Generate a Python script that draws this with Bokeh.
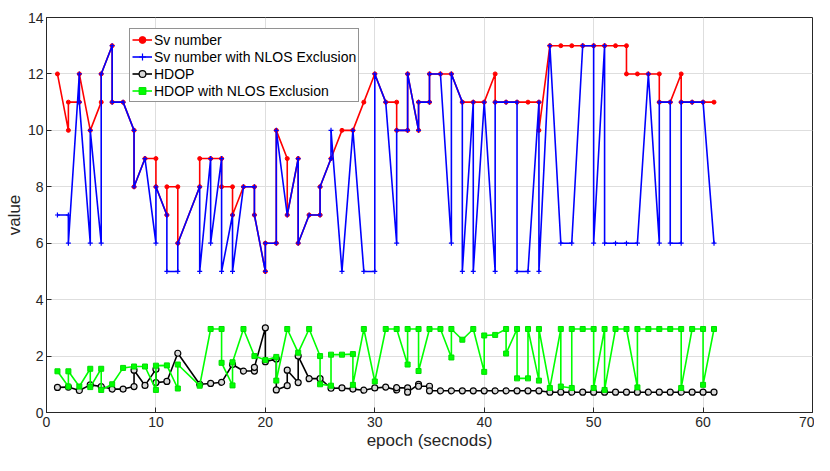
from bokeh.plotting import figure
from bokeh.models import Range1d, FixedTicker, Legend, LegendItem
from bokeh.embed import file_html
from bokeh.resources import INLINE

# ---------------- data ----------------
sv_x = [1, 2, 2, 3, 3, 4, 5, 5, 6, 6, 7, 8, 8, 9, 10, 10, 11, 11, 12, 12,
        14, 14, 15, 16, 16, 17, 17, 18, 19, 19, 20, 20, 21, 21, 22, 22, 23, 23,
        24, 25, 25, 26, 27, 28, 29, 30, 31, 32, 32, 33, 33, 34, 34, 35, 35, 36,
        37, 38, 39, 40, 41, 41, 42, 43, 44, 45, 45, 46, 47, 48, 49, 50, 51, 52,
        53, 53, 54, 55, 56, 56, 57, 58, 58, 59, 60, 61]
sv_y = [12, 10, 11, 11, 12, 10, 11, 12, 13, 11, 11, 10, 8, 9, 9, 8, 7, 8, 8, 6,
        8, 9, 9, 9, 8, 8, 7, 8, 8, 7, 5, 6, 6, 10, 9, 7, 9, 6,
        7, 7, 8, 9, 10, 10, 11, 12, 11, 11, 10, 10, 12, 10, 11, 11, 12, 12,
        12, 11, 11, 11, 12, 11, 11, 11, 11, 11, 10, 13, 13, 13, 13, 13, 13, 13,
        13, 12, 12, 12, 12, 11, 11, 12, 11, 11, 11, 11]

sv_nlos_x = [1, 2, 2, 3, 3, 4, 4, 5, 5, 6, 6, 7, 8, 8, 9, 10, 10, 11, 11, 12, 12,
             14, 14, 15, 15, 16, 16, 17, 17, 18, 19, 19, 20, 20, 21, 21, 22, 23, 23,
             24, 25, 25, 26, 26, 27, 28, 29, 30, 30, 31, 32, 32, 33, 33, 34, 34,
             35, 35, 36, 37, 37, 38, 38, 39, 39, 40, 41, 41, 42, 43, 43, 44, 45, 45,
             46, 47, 48, 49, 50, 50, 51, 51, 52, 53, 54, 55, 56, 56, 57, 57, 58, 58,
             59, 60, 61]
sv_nlos_y = [7, 7, 6, 12, 11, 6, 10, 6, 12, 13, 11, 11, 10, 8, 9, 6, 8, 7, 5, 5, 6,
             8, 5, 9, 6, 9, 5, 7, 5, 8, 8, 7, 5, 6, 6, 10, 7, 9, 6,
             7, 7, 8, 9, 10, 5, 10, 5, 5, 12, 11, 6, 10, 10, 12, 10, 11,
             11, 12, 12, 6, 12, 11, 5, 11, 5, 11, 5, 11, 11, 11, 5, 5, 11, 5,
             13, 6, 6, 13, 13, 6, 13, 6, 6, 6, 6, 12, 6, 11, 11, 6, 6, 11,
             11, 11, 6]

hdop_x = [1, 2, 3, 4, 5, 6, 7, 8, 8, 9, 10, 10, 11, 12, 14, 15, 16, 17, 18, 19,
          19, 20, 20, 21, 21, 22, 22, 23, 23, 24, 25, 26, 27, 28, 29, 30, 31, 32,
          32, 33, 33, 34, 34, 35, 35, 36, 37, 38, 39, 40, 41, 42, 43, 44, 45, 46,
          47, 48, 49, 50, 51, 52, 53, 54, 55, 56, 57, 58, 59, 60, 61]
hdop_y = [0.89, 0.90, 0.78, 0.98, 0.92, 0.83, 0.83, 0.92, 1.50, 0.96, 1.53, 1.06,
          1.10, 2.10, 1.00, 1.03, 1.07, 1.70, 1.47, 1.47, 1.60, 3.00, 1.80, 1.90,
          0.80, 0.95, 1.50, 1.06, 2.00, 1.20, 1.20, 0.86, 0.87, 0.83, 0.79, 0.87,
          0.90, 0.80, 0.88, 0.87, 0.72, 1.00, 0.93, 0.93, 0.77, 0.77, 0.77, 0.77,
          0.77, 0.77, 0.77, 0.77, 0.77, 0.77, 0.77, 0.72, 0.72, 0.72, 0.72, 0.72,
          0.72, 0.72, 0.72, 0.72, 0.72, 0.72, 0.72, 0.72, 0.72, 0.72, 0.72]

hdop_nlos_x = [1, 2, 2, 3, 4, 4, 5, 5, 6, 7, 8, 9, 10, 10, 11, 12, 12,
               14, 15, 16, 16, 17, 17, 18, 19, 20, 21, 21, 22, 23, 24, 25, 25, 26, 26,
               27, 28, 28, 29, 30, 31, 32, 33, 33, 34, 34, 35, 36, 37, 37, 38, 39,
               40, 40, 41, 42, 42, 43, 43, 44, 44, 45, 45, 46, 47, 47, 48, 48, 49,
               50, 50, 51, 51, 52, 53, 54, 54, 55, 56, 57, 58, 58, 59, 60, 60, 61]
hdop_nlos_y = [1.46, 0.92, 1.46, 0.92, 1.55, 0.90, 1.55, 0.80, 1.00, 1.58, 1.63, 1.63,
               0.80, 1.66, 1.67, 0.85, 1.70,
               0.95, 2.96, 2.96, 1.76, 0.96, 1.78, 2.96, 2.00, 1.86, 1.97, 1.13, 2.96,
               2.12, 2.96, 2.00, 1.00, 0.95, 2.05,
               2.05, 2.07, 0.98, 2.96, 1.10, 2.96, 2.96, 1.70, 2.96, 2.96, 1.47, 2.96,
               2.96, 1.95, 2.96, 2.58, 2.96,
               1.44, 2.73, 2.75, 2.96, 2.09, 2.96, 1.21, 1.21, 2.96, 1.13, 2.96, 0.87,
               2.96, 0.92, 0.87, 2.96, 2.96,
               2.96, 0.87, 2.96, 0.80, 2.96, 2.96, 0.89, 2.96, 2.96, 2.96, 2.96, 2.96,
               0.87, 2.96, 2.96, 0.98, 2.96]

x_ticks = [0, 10, 20, 30, 40, 50, 60, 70]
y_ticks = [0, 2, 4, 6, 8, 10, 12, 14]

series_labels = ["Sv number", "Sv number with NLOS Exclusion", "HDOP",
                 "HDOP with NLOS Exclusion"]
x_title = "epoch (secnods)"
y_title = "value"

# ---------------- figure ----------------
FONT = "Liberation Sans"
AX = "#262626"

p = figure(width=814, height=455, output_backend="svg", toolbar_location=None,
           x_range=Range1d(0, 70), y_range=Range1d(0, 14),
           min_border_left=46, min_border_right=2, min_border_top=17,
           min_border_bottom=43)
p.background_fill_color = "white"
p.border_fill_color = "white"
p.outline_line_color = AX
p.outline_line_width = 1

p.xaxis.ticker = FixedTicker(ticks=x_ticks)
p.yaxis.ticker = FixedTicker(ticks=y_ticks)
p.xaxis.axis_label = x_title
p.yaxis.axis_label = y_title
for ax in (p.xaxis, p.yaxis):
    ax.axis_line_color = AX
    ax.major_tick_line_color = AX
    ax.major_tick_in = 5
    ax.major_tick_out = 0
    ax.minor_tick_line_color = None
    ax.major_label_text_font = FONT
    ax.major_label_text_font_size = "14px"
    ax.major_label_text_color = AX
    ax.axis_label_text_font = FONT
    ax.axis_label_text_font_size = "17px"
    ax.axis_label_text_font_style = "normal"
    ax.axis_label_text_color = AX
p.xaxis.major_label_standoff = 4
p.xaxis.axis_label_standoff = 1
p.yaxis.major_label_standoff = 3
p.yaxis.axis_label_standoff = 1

p.grid.grid_line_color = "#dedede"
p.grid.grid_line_width = 1

LW = 1.6
r1l = p.line(sv_x, sv_y, line_color="#ff0000", line_width=LW)
r1m = p.scatter(sv_x, sv_y, marker="circle", size=4, fill_color="#ff0000",
                line_color="#ff0000")
r2l = p.line(sv_nlos_x, sv_nlos_y, line_color="#0000ff", line_width=LW)
r2m = p.scatter(sv_nlos_x, sv_nlos_y, marker="cross", size=5, line_width=1.2,
                line_color="#0000ff")
r3l = p.line(hdop_x, hdop_y, line_color="#000000", line_width=LW)
r3m = p.scatter(hdop_x, hdop_y, marker="circle", size=6, fill_color="#d9d9d9",
                line_color="#000000", line_width=1.2)
r4l = p.line(hdop_nlos_x, hdop_nlos_y, line_color="#00ff00", line_width=LW)
r4m = p.scatter(hdop_nlos_x, hdop_nlos_y, marker="square", size=5,
                fill_color="#00ff00", line_color="#00dd00")

legend = Legend(items=[
    LegendItem(label=series_labels[0], renderers=[r1l, r1m]),
    LegendItem(label=series_labels[1], renderers=[r2l, r2m]),
    LegendItem(label=series_labels[2], renderers=[r3l, r3m]),
    LegendItem(label=series_labels[3], renderers=[r4l, r4m]),
], location=(83, 310))
legend.label_text_font = FONT
legend.label_text_font_size = "14px"
legend.label_text_color = "#000000"
legend.border_line_color = AX
legend.border_line_width = 1
legend.background_fill_color = "white"
legend.background_fill_alpha = 1
legend.padding = 2
legend.margin = 0
legend.spacing = 0
legend.glyph_width = 20
legend.glyph_height = 17
legend.label_height = 17
legend.label_standoff = 2
p.add_layout(legend, "center")

open("out.html", "w").write(file_html(p, INLINE))
